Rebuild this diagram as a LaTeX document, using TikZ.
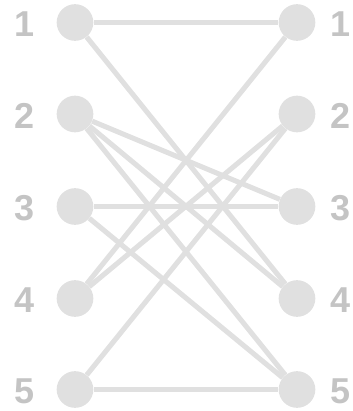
\documentclass[tikz,border=0pt]{standalone}
\usepackage{fontspec}
\setmainfont{Liberation Sans}
\definecolor{dotgray}{HTML}{E0E0E0}
\definecolor{labgray}{HTML}{C4C4C4}
\begin{document}
\begin{tikzpicture}[x=0.75pt,y=-0.75pt,
  dot/.style={circle,fill=dotgray,draw=none,minimum size=27.5pt,inner sep=0pt},
  lab/.style={text=labgray,font=\fontsize{27}{27}\selectfont\bfseries,inner sep=0pt,anchor=center},
  link/.style={draw=dotgray,line width=3.8pt}]
\useasboundingbox (0,0) rectangle (353,411);
\foreach \i/\y in {1/22.5,2/114,3/206.5,4/298.5,5/389.5}{
  \node[dot] (L\i) at (75,\y) {};
  \node[dot] (R\i) at (297,\y) {};
  \node[lab] (lt\i) at (24.5,\y+1.5) {\i};
  \node[lab] (rt\i) at (341,\y+1.5) {\i};
}
\foreach \a/\b in {1/1,1/4,2/3,2/4,2/5,3/3,3/5,4/1,4/2,5/2,5/5}{
  \draw[link] (L\a) -- (R\b);
}
\end{tikzpicture}
\end{document}
